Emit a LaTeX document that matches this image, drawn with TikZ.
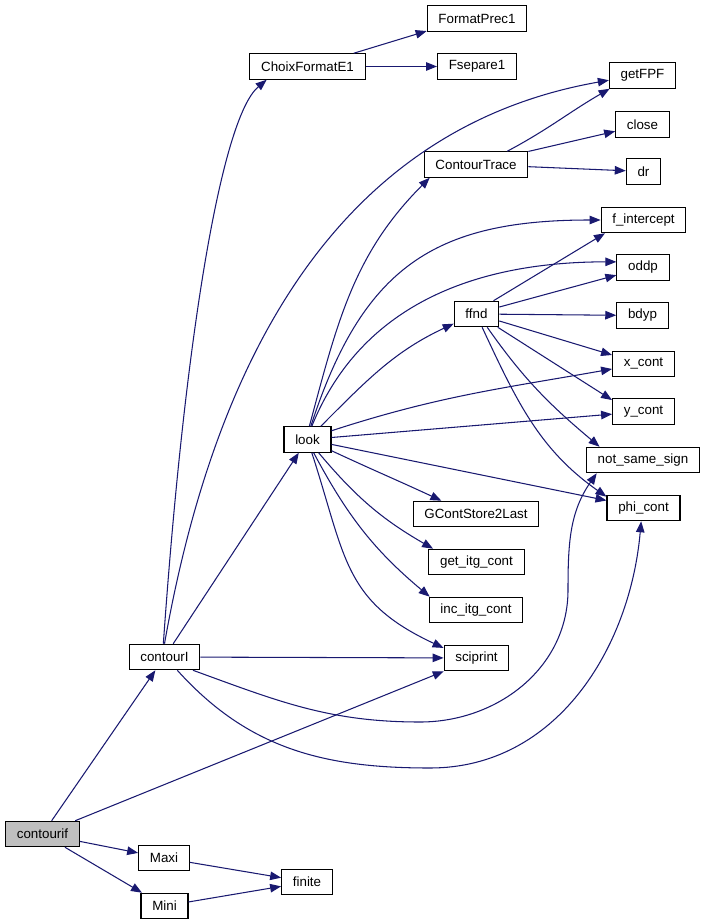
\documentclass[tikz,border=0pt]{standalone}
\usepackage{fontspec}
\setmainfont{Liberation Sans}
\usetikzlibrary{arrows.meta}
\definecolor{edgeblue}{RGB}{25,25,112}
\tikzset{
  fn/.style={draw=black, fill=white, line width=0.6pt, minimum height=0.51cm,
    inner xsep=6.4pt, inner ysep=0pt, font=\fontsize{7.6}{8}\selectfont},
  root/.style={fn, fill=black!25},
  call/.style={draw=edgeblue, line width=0.6pt, -{Triangle[length=0.22cm,width=0.17cm]}},
}

\begin{document}
\begin{tikzpicture}[x=0.02cm, y=-0.02cm]
            \useasboundingbox (0,0) rectangle (703,922);

            \node[root] (cif) at (42.5,834) {contourif};
            \node[fn] (maxi) at (164,858) {Maxi};
            \node[fn] (mini) at (164.5,906) {Mini};
            \node[fn] (finite) at (307,882) {finite};
            \node[fn] (cI) at (164.5,657) {contourI};
            \node[fn] (sci) at (476.5,658) {sciprint};
            \node[fn] (look) at (307.5,439.5) {look};
            \node[fn] (cfe) at (307.5,66.5) {ChoixFormatE1};
            \node[fn] (fp1) at (477,18.5) {FormatPrec1};
            \node[fn] (fs1) at (477,66.5) {Fsepare1};
            \node[fn] (fpf) at (642.5,75.5) {getFPF};
            \node[fn] (clo) at (642.5,124.5) {close};
            \node[fn] (ct) at (476,164.5) {ContourTrace};
            \node[fn] (dr) at (643.5,171.5) {dr};
            \node[fn] (fint) at (643.5,220) {f\_intercept};
            \node[fn] (oddp) at (643,267.5) {oddp};
            \node[fn] (ffnd) at (476.5,314) {ffnd};
            \node[fn] (bdyp) at (642.5,315.5) {bdyp};
            \node[fn] (xc) at (643.5,364) {x\_cont};
            \node[fn] (yc) at (643.5,411.5) {y\_cont};
            \node[fn] (nss) at (643,460) {not\_same\_sign};
            \node[fn] (phi) at (643.5,508) {phi\_cont};
            \node[fn] (gcs) at (476,514) {GContStore2Last};
            \node[fn] (gic) at (476.5,562) {get\_itg\_cont};
            \node[fn] (iic) at (476,610) {inc\_itg\_cont};

            % contourif
            \draw[call] (cif) -- (cI);
            \draw[call] (cif) -- (sci);
            \draw[call] (cif) -- (maxi);
            \draw[call] (cif) -- (mini);
            \draw[call] (maxi) -- (finite);
            \draw[call] (mini) -- (finite);

            % contourI
            \draw[call] (cI) -- (look);
            \draw[call] (cI) -- (sci);
            \draw[call] (cI.95) to[out=86,in=-140,out distance=6cm,in distance=1.2cm] (cfe.-162);
            \draw[call] (cI.north) to[out=80,in=190] (fpf.188);
            \draw[call] (cI.-25) to[out=-20,in=180] (420,722) to[out=0,in=-90] (568,590) to[out=90,in=-125] (nss.-164);
            \draw[call] (cI.-46) to[out=-48,in=180] (430,768) to[out=0,in=-95] (phi.-100);

            % look
            \draw[call] (look.82) to[out=75,in=-135] (ct.-164);
            \draw[call] (look.76) to[out=72,in=180,looseness=1.2] (fint.west);
            \draw[call] (look.72) to[out=68,in=180] (oddp.168);
            \draw[call] (look.45) to[out=45,in=-155] (ffnd.-157);
            \draw[call] (look.20) to[out=18,in=190] (xc.189);
            \draw[call] (look) -- (yc);
            \draw[call] (look) -- (phi);
            \draw[call] (look.-25) to[out=-25,in=155] (gcs.159);
            \draw[call] (look.-50) to[out=-50,in=150] (gic.163);
            \draw[call] (look.-65) to[out=-62,in=140] (iic.164);
            \draw[call] (look.-72) to[out=-72,in=155,looseness=1.2] (sci.163);

            % ChoixFormatE1
            \draw[call] (cfe.16) -- (fp1.-166);
            \draw[call] (cfe) -- (fs1);

            % ContourTrace
            \draw[call] (ct.23) to[out=28,in=-150] (fpf.-158);
            \draw[call] (ct.14) -- (clo.-166);
            \draw[call] (ct) -- (dr);

            % ffnd
            \draw[call] (ffnd.38) -- (fint.-161);
            \draw[call] (ffnd.17) -- (oddp.-164);
            \draw[call] (ffnd) -- (bdyp);
            \draw[call] (ffnd.-17) -- (xc.164);
            \draw[call] (ffnd.-32) -- (yc.160);
            \draw[call] (ffnd.-51) to[out=-55,in=140] (nss.163);
            \draw[call] (ffnd.-67) to[out=-65,in=145] (phi.163);
\end{tikzpicture}
\end{document}
